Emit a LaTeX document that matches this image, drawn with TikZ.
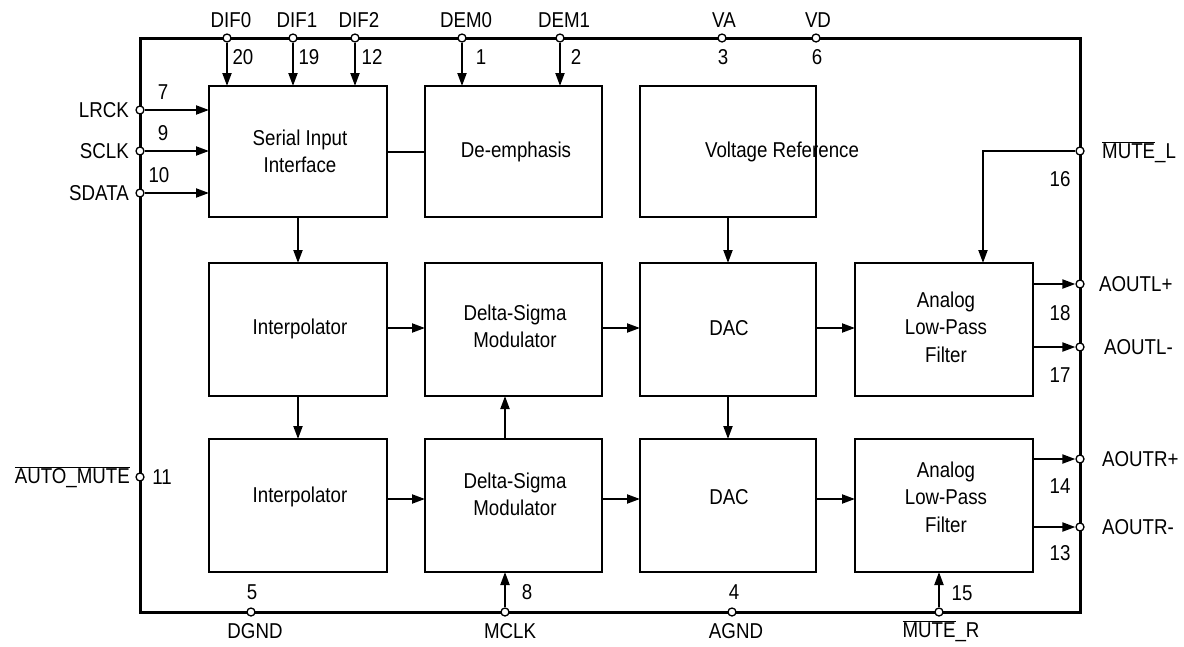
\documentclass[tikz,border=0pt]{standalone}
\usepackage{fontspec}
\setmainfont{Liberation Sans}[FakeStretch=0.87]
\usetikzlibrary{arrows.meta}
\begin{document}
\begin{tikzpicture}[x=1pt,y=-1pt,
  blk/.style={draw, line width=2pt, inner sep=0pt, outer sep=0pt},
  txt/.style={font=\fontsize{21.5}{27.5}\selectfont, align=center, inner sep=0pt},
  lbl/.style={font=\fontsize{21.5}{24}\selectfont, inner sep=0pt},
  pin/.style={circle, draw, fill=white, line width=1.3pt, inner sep=0pt, minimum size=8pt},
  sig/.style={line width=2pt, -{Triangle[length=13pt,width=9pt]}},
  wire/.style={line width=2pt},
  chipframe/.style={draw, line width=3pt, inner sep=0pt, outer sep=0pt}]
\useasboundingbox (0,0) rectangle (1184,646);
% chip outline
\node[chipframe, minimum width=940pt, minimum height=574pt] (chip) at (610,325) {};
% blocks
\node[blk, minimum width=178pt, minimum height=131pt] (sii) at (298,151.5) {};
\node[blk, minimum width=177pt, minimum height=131pt] (dem) at (513.5,151.5) {};
\node[blk, minimum width=176pt, minimum height=131pt] (vr) at (728,151.5) {};
\node[blk, minimum width=178pt, minimum height=133pt] (ip1) at (298,329.5) {};
\node[blk, minimum width=177pt, minimum height=133pt] (ds1) at (513.5,329.5) {};
\node[blk, minimum width=176pt, minimum height=133pt] (dac1) at (728,329.5) {};
\node[blk, minimum width=178pt, minimum height=133pt] (lpf1) at (944,329.5) {};
\node[blk, minimum width=178pt, minimum height=133pt] (ip2) at (298,505.5) {};
\node[blk, minimum width=177pt, minimum height=133pt] (ds2) at (513.5,505.5) {};
\node[blk, minimum width=176pt, minimum height=133pt] (dac2) at (728,505.5) {};
\node[blk, minimum width=178pt, minimum height=133pt] (lpf2) at (944,505.5) {};
% block texts
\node[txt] (tsii) at (300,151.5) {Serial Input\\Interface};
\node[txt] (tdem) at (516,151.5) {De-emphasis};
\node[txt] (tvr) at (782,152) {Voltage Reference};
\node[txt] (tip1) at (300,329) {Interpolator};
\node[txt] (tds1) at (515,326.5) {Delta-Sigma\\Modulator};
\node[txt] (tdac1) at (729,328) {DAC};
\node[txt] (tlpf1) at (946,327) {Analog\\Low-Pass\\Filter};
\node[txt] (tip2) at (300,497) {Interpolator};
\node[txt] (tds2) at (515,494.5) {Delta-Sigma\\Modulator};
\node[txt] (tdac2) at (729,497) {DAC};
\node[txt] (tlpf2) at (946,497) {Analog\\Low-Pass\\Filter};
% helper coordinates
\coordinate (r2y) at (0,328);
\coordinate (r3y) at (0,499);
\coordinate (mlx) at (983,0);
% pins
\node[pin] (dif0) at (227,38) {};
\node[pin] (dif1) at (293,38) {};
\node[pin] (dif2) at (355,38) {};
\node[pin] (dem0) at (462,38) {};
\node[pin] (dem1) at (560,38) {};
\node[pin] (va) at (722,38) {};
\node[pin] (vd) at (816,38) {};
\node[pin] (lrck) at (140,110) {};
\node[pin] (sclk) at (140,151) {};
\node[pin] (sdata) at (140,193) {};
\node[pin] (amute) at (140,477) {};
\node[pin] (mutel) at (1080,151) {};
\node[pin] (aoutlp) at (1080,284) {};
\node[pin] (aoutlm) at (1080,347) {};
\node[pin] (aoutrp) at (1080,459) {};
\node[pin] (aoutrm) at (1080,527) {};
\node[pin] (dgnd) at (251,612) {};
\node[pin] (mclk) at (505,612) {};
\node[pin] (agnd) at (732,612) {};
\node[pin] (muter) at (939,612) {};
% pin connectors
\draw[sig] (dif0) -- (dif0 |- sii.north);
\draw[sig] (dif1) -- (dif1 |- sii.north);
\draw[sig] (dif2) -- (dif2 |- sii.north);
\draw[sig] (dem0) -- (dem0 |- dem.north);
\draw[sig] (dem1) -- (dem1 |- dem.north);
\draw[sig] (lrck) -- (sii.west |- lrck);
\draw[sig] (sclk) -- (sii.west |- sclk);
\draw[sig] (sdata) -- (sii.west |- sdata);
\draw[sig] (mutel) -| (lpf1.north -| mlx);
\draw[sig] (lpf1.east |- aoutlp) -- (aoutlp);
\draw[sig] (lpf1.east |- aoutlm) -- (aoutlm);
\draw[sig] (lpf2.east |- aoutrp) -- (aoutrp);
\draw[sig] (lpf2.east |- aoutrm) -- (aoutrm);
\draw[sig] (mclk) -- (mclk |- ds2.south);
\draw[sig] (muter) -- (muter |- lpf2.south);
% internal connectors
\draw[wire] (sii.east) -- (dem.west);
\draw[sig] (sii.south) -- (ip1.north);
\draw[sig] (ip1.south) -- (ip2.north);
\draw[sig] (vr.south) -- (dac1.north);
\draw[sig] (dac1.south) -- (dac2.north);
\draw[sig] (ds2.north -| mclk) -- (ds1.south -| mclk);
\draw[sig] (ip1.east |- r2y) -- (ds1.west |- r2y);
\draw[sig] (ds1.east |- r2y) -- (dac1.west |- r2y);
\draw[sig] (dac1.east |- r2y) -- (lpf1.west |- r2y);
\draw[sig] (ip2.east |- r3y) -- (ds2.west |- r3y);
\draw[sig] (ds2.east |- r3y) -- (dac2.west |- r3y);
\draw[sig] (dac2.east |- r3y) -- (lpf2.west |- r3y);
% pin names
\node[lbl] (ldif0) at (231,20) {DIF0};
\node[lbl] (ldif1) at (297,20) {DIF1};
\node[lbl] (ldif2) at (359,20) {DIF2};
\node[lbl] (ldem0) at (466,20) {DEM0};
\node[lbl] (ldem1) at (564,20) {DEM1};
\node[lbl] (lva) at (724,20) {VA};
\node[lbl] (lvd) at (818,20) {VD};
\node[lbl, anchor=east] (llrck) at (129,110) {LRCK};
\node[lbl, anchor=east] (lsclk) at (129,151) {SCLK};
\node[lbl, anchor=east] (lsdata) at (129,193) {SDATA};
\node[lbl, anchor=east] (lamute) at (130,477) {$\overline{\mbox{AUTO\_MUTE}}$};
\node[lbl, anchor=west] (lmutel) at (1102,152) {$\overline{\mbox{MUTE}}$\_L};
\node[lbl, anchor=west] (laoutlp) at (1099,284) {AOUTL+};
\node[lbl, anchor=west] (laoutlm) at (1104,347) {AOUTL-};
\node[lbl, anchor=west] (laoutrp) at (1102,459) {AOUTR+};
\node[lbl, anchor=west] (laoutrm) at (1102,527) {AOUTR-};
\node[lbl] (ldgnd) at (255,631) {DGND};
\node[lbl] (lmclk) at (510,631) {MCLK};
\node[lbl] (lagnd) at (736,631) {AGND};
\node[lbl] (lmuter) at (941,631) {$\overline{\mbox{MUTE}}$\_R};
% pin numbers
\node[lbl] (n20) at (243,57) {20};
\node[lbl] (n19) at (309,57) {19};
\node[lbl] (n12) at (372,57) {12};
\node[lbl] (n1) at (481,57) {1};
\node[lbl] (n2) at (576,57) {2};
\node[lbl] (n3) at (723,57) {3};
\node[lbl] (n6) at (817,57) {6};
\node[lbl] (n7) at (163,92) {7};
\node[lbl] (n9) at (163,133) {9};
\node[lbl] (n10) at (159,175) {10};
\node[lbl] (n11) at (162,477) {11};
\node[lbl] (n16) at (1060,179) {16};
\node[lbl] (n18) at (1060,313) {18};
\node[lbl] (n17) at (1060,375) {17};
\node[lbl] (n14) at (1060,486) {14};
\node[lbl] (n13) at (1060,553) {13};
\node[lbl] (n5) at (252,592) {5};
\node[lbl] (n8) at (527,592) {8};
\node[lbl] (n4) at (734,592) {4};
\node[lbl] (n15) at (962,593) {15};
\end{tikzpicture}
\end{document}
